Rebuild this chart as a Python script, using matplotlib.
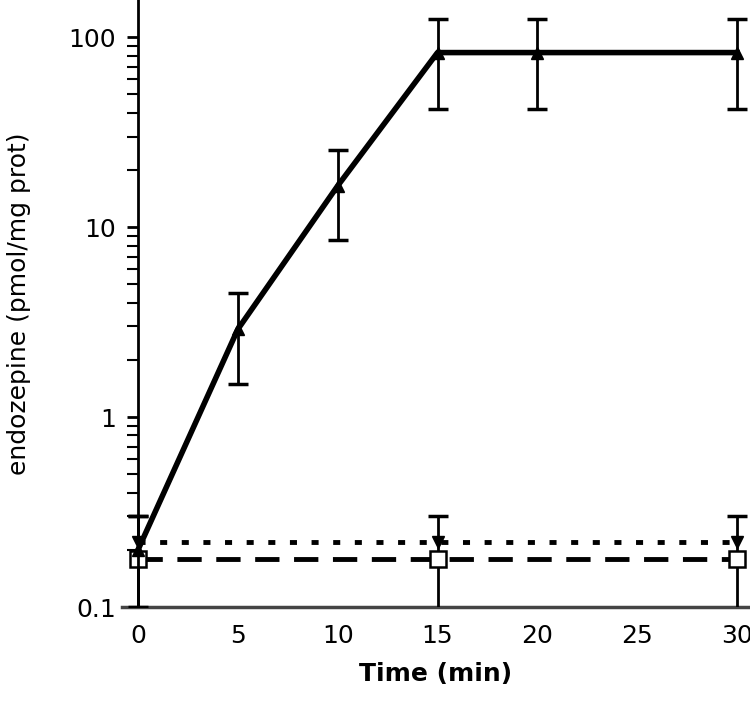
import numpy as np
import matplotlib
matplotlib.use("Agg")
import matplotlib.pyplot as plt
from matplotlib.ticker import LogLocator, NullFormatter, FixedLocator, FixedFormatter

# stimulated series (filled up-triangles, solid line)
t_stim = [0, 5, 10, 15, 20, 30]
y_stim = [0.2, 2.9, 16.5, 83, 83, 83]
lo_stim = [0.1, 1.5, 8.6, 42, 42, 42]
hi_stim = [0.3, 4.5, 25.5, 125, 125, 125]

# control series (filled down-triangles dotted, open squares dashed)
t_ctrl = [0, 15, 30]
y_dot = [0.22, 0.22, 0.22]
y_dash = [0.18, 0.18, 0.18]
lo_ctrl = [0.05, 0.05, 0.05]
hi_ctrl = [0.30, 0.30, 0.30]

xticks = [0, 5, 10, 15, 20, 25, 30]
yticks = [0.1, 1, 10, 100]
yticklabels = ["0.1", "1", "10", "100"]

plt.rcParams["font.family"] = ["DejaVu Sans"]

fig = plt.figure(figsize=(7.5, 7.06), dpi=100)
ax = fig.add_axes([0.1627, 0.1402, 0.8373, 0.8598])
ax.set_yscale("log")
ax.set_xlim(-0.8, 30.65)
ax.set_ylim(0.1, 157)

# control lines
ax.errorbar(t_ctrl, y_dot,
            yerr=[np.array(y_dot) - np.array(lo_ctrl), np.array(hi_ctrl) - np.array(y_dot)],
            fmt="none", ecolor="black", elinewidth=2, capsize=7, capthick=2.5, zorder=3)
ax.plot(t_ctrl, y_dot, ls=(0, (1.45, 3.0)), color="black", lw=3.5, zorder=3)
ax.plot(t_ctrl, y_dash, ls=(0, (5, 3)), color="black", lw=3.5, zorder=3)
ax.plot(t_ctrl, y_dash, "s", mfc="white", mec="black", ms=12, mew=1.8, zorder=4)
ax.plot(t_ctrl, y_dot, "v", color="black", ms=9, zorder=5)

# stimulated
ax.errorbar(t_stim, y_stim,
            yerr=[np.array(y_stim) - np.array(lo_stim), np.array(hi_stim) - np.array(y_stim)],
            fmt="^", color="black", ms=9, ls="-", lw=4,
            elinewidth=2, capsize=7, capthick=2.5, zorder=5)

for s in ["top", "right"]:
    ax.spines[s].set_visible(False)
ax.spines["left"].set_position(("data", 0))
ax.spines["left"].set_linewidth(2)
ax.spines["bottom"].set_linewidth(2.5)
ax.spines["bottom"].set_color("#444444")

ax.xaxis.set_major_locator(FixedLocator(xticks))
ax.tick_params(axis="x", length=0, labelsize=18, pad=12)
ax.yaxis.set_major_locator(FixedLocator(yticks))
ax.yaxis.set_major_formatter(FixedFormatter(yticklabels))
ax.yaxis.set_minor_locator(LogLocator(base=10, subs=np.arange(2, 10)))
ax.yaxis.set_minor_formatter(NullFormatter())
ax.tick_params(axis="y", which="major", direction="out", length=8, width=2, labelsize=18, pad=8)
ax.tick_params(axis="y", which="minor", direction="out", length=8, width=1.5)

ax.set_xlabel("Time (min)", fontsize=18, fontweight="bold", labelpad=10)
ax.set_ylabel("endozepine (pmol/mg prot)", fontsize=18, labelpad=8)
ax.yaxis.set_label_coords(-0.145, 0.5)

fig.savefig("out.png", dpi=100)
